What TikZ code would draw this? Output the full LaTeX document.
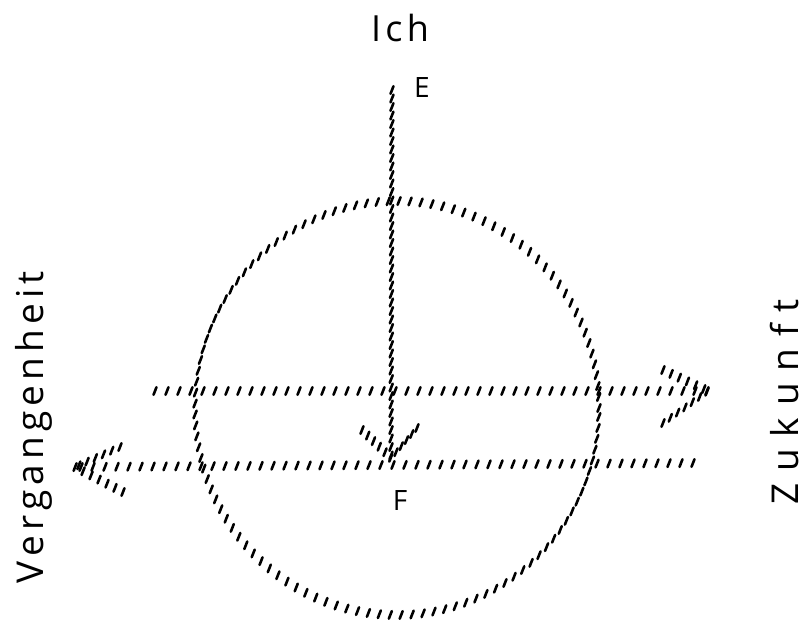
\documentclass[tikz,border=0pt]{standalone}
\usepackage{fontspec}
\setmainfont{Open Sans}
\usetikzlibrary{decorations.markings}
\tikzset{
  hatch/.style={decorate, decoration={markings,
    mark=between positions 0 and 1 step #1 with {\pgftransformresetnontranslations
      \draw[line width=2.6pt, line cap=round] (-1.5pt,-3.8pt) -- (1.5pt,3.8pt);}}},
  hatch/.default=11pt,
  lbl/.style={inner sep=0pt, text=black},
}
\begin{document}
\begin{tikzpicture}[x=1pt,y=-1pt]
\useasboundingbox (0,0) rectangle (811,630);
% labels
\node[lbl, font=\fontsize{36}{40}\selectfont\addfontfeature{LetterSpace=12}] (ich) at (400,28) {Ich};
\node[lbl, font=\fontsize{28}{30}\selectfont] (E) at (422,88) {E};
\node[lbl, font=\fontsize{28}{30}\selectfont] (F) at (400,500) {F};
\node[lbl, rotate=90, anchor=base, font=\fontsize{37}{40}\selectfont\addfontfeature{LetterSpace=14}] (verg) at (43,427) {Vergangenheit};
\node[lbl, rotate=90, anchor=base, font=\fontsize{37}{40}\selectfont\addfontfeature{LetterSpace=32}] (zuk) at (798,402) {Zukunft};
% key points
\coordinate (c) at (397,408);
\coordinate (Etop) at (392,90);
\coordinate (Ftip) at (391,458);
\coordinate (vbl) at (362,430);
\coordinate (vbr) at (417,428);
\coordinate (uL) at (155,391);
\coordinate (uR) at (708,391);
\coordinate (ubt) at (663,370);
\coordinate (ubb) at (663,423);
\coordinate (lL) at (75,467);
\coordinate (lR) at (693,463);
\coordinate (lbt) at (120,447);
\coordinate (lbb) at (123,492);
% circle
\path[hatch=11pt] (c) circle[x radius=202pt, y radius=207pt];
% vertical arrow E -> F
\path[hatch=8.5pt] (Etop) -- (Ftip);
\path[hatch=8pt] (vbl) -- (Ftip);
\path[hatch=8pt] (vbr) -- (Ftip);
% upper horizontal arrow to the right
\path[hatch=12pt] (uL) -- (uR);
\path[hatch=9pt] (ubt) -- (uR);
\path[hatch=9pt] (ubb) -- (uR);
% lower horizontal arrow to the left
\path[hatch=12pt] (lR) -- (lL);
\path[hatch=9pt] (lbt) -- (lL);
\path[hatch=9pt] (lbb) -- (lL);
\end{tikzpicture}
\end{document}
